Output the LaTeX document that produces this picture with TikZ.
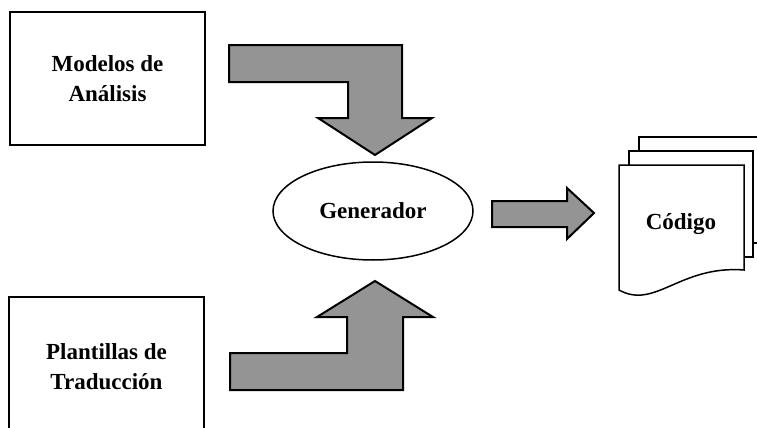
\documentclass[tikz,border=0pt]{standalone}
\usepackage{fontspec}
\setmainfont{Liberation Serif}
\usetikzlibrary{shapes.geometric}

\begin{document}
\begin{tikzpicture}[x=0.5pt, y=-0.5pt]
 \tikzstyle{caja}=[rectangle, draw, line width=0.75pt, text=black, align=center, font=\fontsize{11.5}{15}\selectfont\bfseries, minimum width=97.5pt, inner sep=0pt]
 \tikzstyle{elipse}=[ellipse, draw, line width=0.75pt, font=\fontsize{11.5}{15}\selectfont\bfseries, minimum width=100pt, minimum height=49pt, inner sep=0pt]
 \tikzstyle{flecha}=[draw, line width=1pt, fill=black!42, line join=miter]
 \tikzstyle{hoja}=[draw, fill=white, line width=0.75pt]
 \useasboundingbox (0,0) rectangle (757,428);
 %
 \node[caja, minimum height=66.5pt] (modelos) at (107.5, 78.5) {Modelos de\\Análisis};
 \node[caja, minimum height=70pt] (plantillas) at (106.5, 367) {Plantillas de\\Traducción};
 \node[elipse] (generador) at (373, 211) {Generador};
 %
 \draw[flecha] (229,45)--(402,45)--(402,118)--(432,118)--(375,155)--(318,118)--(348,118)--(348,82)--(229,82)--cycle;
 \draw[flecha] (230,390)--(230,353)--(347,353)--(347,317)--(317,317)--(375,281)--(433,317)--(403,317)--(403,390)--cycle;
 \draw[flecha] (492,201)--(567,201)--(567,188)--(594,213)--(567,239)--(567,227)--(492,227)--cycle;
 %
 \draw[hoja] (639,137) rectangle (790,243);
 \draw[hoja] (629,151) rectangle (753,257);
 \draw[hoja] (619,165)--(744,165)--(744,270) .. controls (680,265) and (655,310) .. (619,290)--cycle;
 \node[font=\fontsize{11.5}{15}\selectfont\bfseries] (codigo) at (681, 224) {Código};
\end{tikzpicture}
\end{document}
